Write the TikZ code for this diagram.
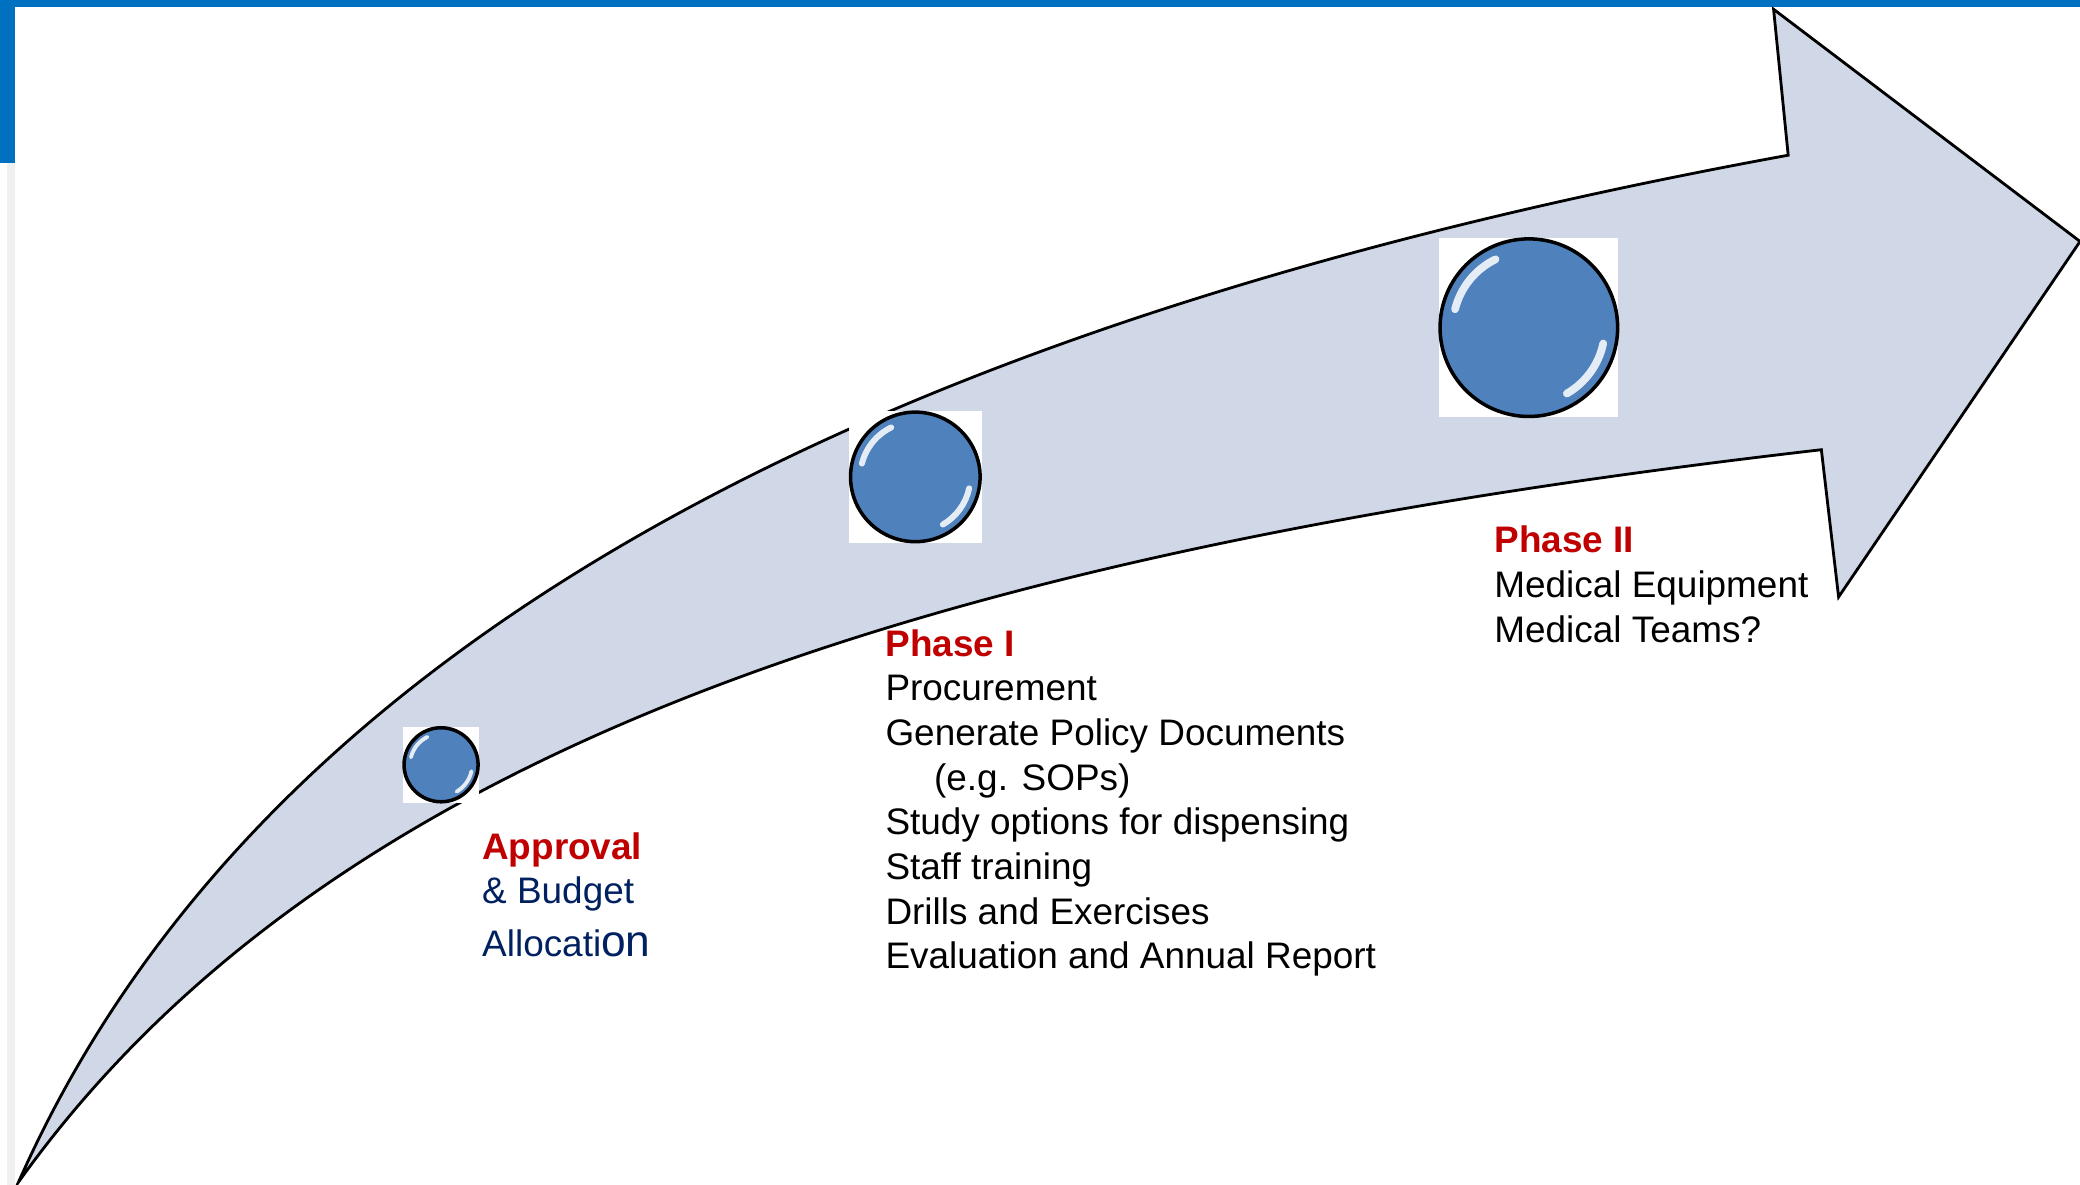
\documentclass[tikz,border=0pt]{standalone}
\usepackage{fontspec}
\setmainfont{Liberation Sans}
\definecolor{barblue}{HTML}{0070C0}
\definecolor{arrowfill}{HTML}{D0D8E8}
\definecolor{ballblue}{HTML}{4F81BD}
\definecolor{phasered}{HTML}{C00000}
\definecolor{navy}{HTML}{002060}

\begin{document}
\begin{tikzpicture}[x=0.013265cm, y=-0.013265cm,
  ball/.style={circle, draw=black, line width=1pt, fill=ballblue, inner sep=0pt},
  ballbox/.style={rectangle, fill=white, inner sep=0pt},
  gloss/.style={white, line width=#1, line cap=round, opacity=0.85},
  phasetext/.style={anchor=north west, align=left, inner sep=0pt, font=\fontsize{10.5}{12.7}\selectfont},
  phasetitle/.style={text=phasered, font=\bfseries}]
\useasboundingbox (0,0) rectangle (1568,893);

% 页面边框
\fill[barblue] (0,0) rectangle (1568,5);
\fill[barblue] (0,0) rectangle (11,123);
\fill[black!6] (5,123) rectangle (11,893);

% 弯曲的箭头
\draw[line width=0.8pt, fill=arrowfill, line join=miter]
  (14,891) .. controls (254,555) and (723,414) .. (1373,339)
  -- (1386,450) -- (1568,182) -- (1337,7) -- (1348,117)
  .. controls (620,250) and (185,505) .. (14,891) -- cycle;

% 三个圆球
\node[ballbox, minimum size=0.756cm] (box0) at (332.5,576.5) {};
\node[ball, minimum size=0.740cm] (b0) at (box0) {};
\node[ballbox, minimum size=1.327cm] (box1) at (690,359.5) {};
\node[ball, minimum size=1.295cm] (b1) at (box1) {};
\node[ballbox, minimum size=1.791cm] (box2) at (1152.5,247) {};
\node[ball, minimum size=1.775cm] (b2) at (box2) {};
\foreach \b/\r/\w in {b0/0.31/1.1, b1/0.55/1.7, b2/0.76/2.2} {
  \draw[gloss=\w pt] (\b.center) ++(166:\r cm) arc[start angle=166, end angle=116, radius=\r cm];
  \draw[gloss=\w pt] (\b.center) ++(-12:\r cm) arc[start angle=-12, end angle=-60, radius=\r cm];
}

% 文字说明
\node[phasetext, text=navy] (approval) at (363,627)
  {{\color{phasered}\bfseries Approval}\\ \& Budget\\[2.3pt] Allocati{\fontsize{12.6}{12.7}\selectfont on}};
\node[phasetext] (phase1) at (667,474)
  {{\color{phasered}\bfseries Phase I}\\ Procurement\\ Generate Policy Documents\\ \hspace{0.486cm}(e.g. SOPs)\\
   Study options for dispensing\\ Staff training\\ Drills and Exercises\\ Evaluation and Annual Report};
\node[phasetext] (phase2) at (1126,396)
  {{\color{phasered}\bfseries Phase II}\\ Medical Equipment\\ Medical Teams?};
\end{tikzpicture}
\end{document}
